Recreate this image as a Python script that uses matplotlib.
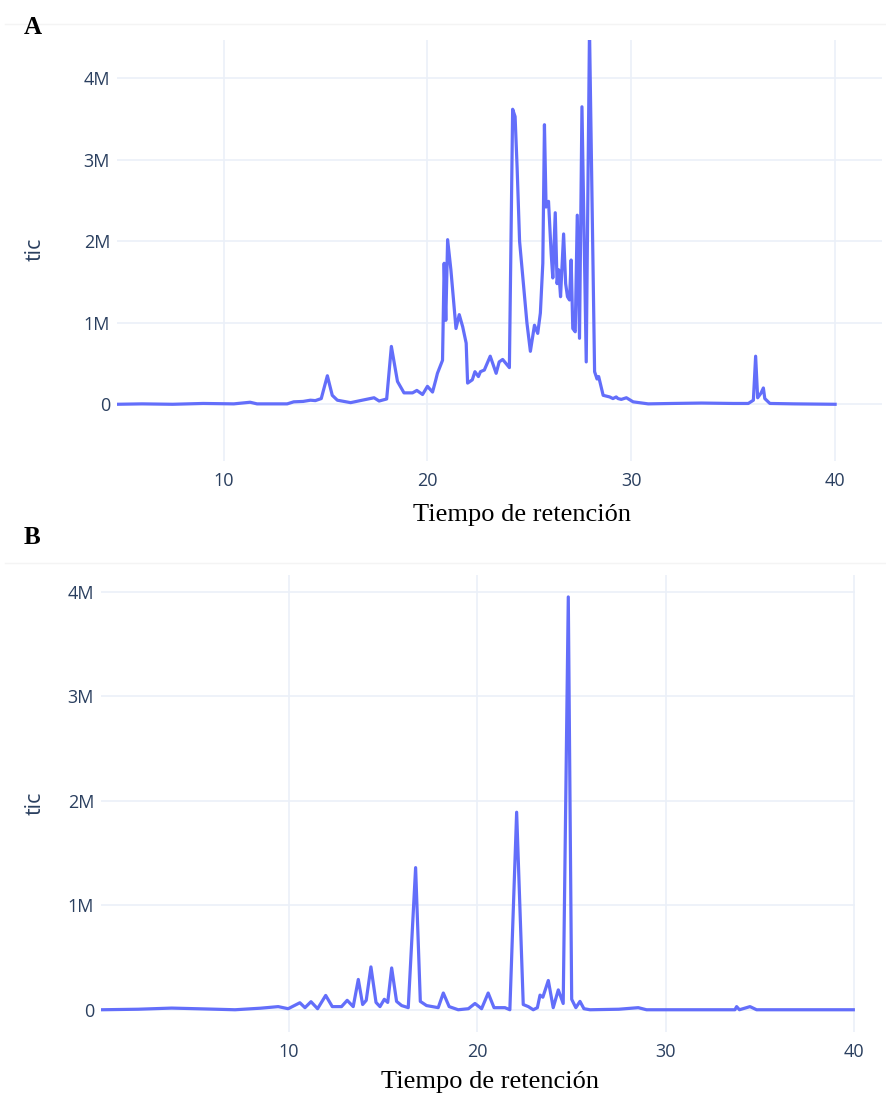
import matplotlib.pyplot as plt
import numpy as np
from matplotlib.ticker import FuncFormatter

# retention time (min) and total ion current (millions of counts)
rt_a = [4.77, 6.0, 7.5, 9.0, 10.5, 11.3, 11.64, 12.5, 13.12, 13.44, 13.9, 14.26,
        14.5, 14.79, 15.09, 15.33, 15.58, 16.23, 16.8, 17.38, 17.63, 18.0, 18.23,
        18.53, 18.85, 19.27, 19.48, 19.76, 20.0, 20.25, 20.41, 20.49, 20.74, 20.82,
        20.9, 20.99, 21.15, 21.4, 21.56, 21.73, 21.9, 21.97, 22.2, 22.33, 22.5,
        22.6, 22.79, 23.08, 23.37, 23.52, 23.69, 24.02, 24.18, 24.3, 24.4, 24.52,
        24.7, 24.88, 25.05, 25.25, 25.41, 25.54, 25.66, 25.74, 25.82, 25.94, 26.07,
        26.15, 26.27, 26.36, 26.44, 26.53, 26.68, 26.78, 26.87, 26.97, 27.05,
        27.13, 27.25, 27.35, 27.46, 27.58, 27.79, 27.95, 28.2, 28.32, 28.4, 28.62,
        28.94, 29.1, 29.26, 29.35, 29.51, 29.76, 30.09, 30.83, 32.0, 33.45, 35.0,
        35.74, 35.99, 36.1, 36.2, 36.36, 36.48, 36.55, 36.8, 38.0, 40.0]
tic_a = [0.0, 0.005, 0.0, 0.01, 0.005, 0.025, 0.005, 0.005, 0.005, 0.03, 0.035, 0.05,
         0.045, 0.07, 0.35, 0.11, 0.05, 0.02, 0.05, 0.08, 0.04, 0.065, 0.71,
         0.28, 0.14, 0.14, 0.17, 0.12, 0.22, 0.15, 0.30, 0.38, 0.54, 1.73,
         1.03, 2.02, 1.65, 0.93, 1.10, 0.95, 0.75, 0.26, 0.30, 0.40, 0.34,
         0.40, 0.42, 0.59, 0.38, 0.52, 0.55, 0.45, 3.62, 3.53, 2.9, 2.0,
         1.5, 1.0, 0.65, 0.97, 0.87, 1.12, 1.73, 3.43, 2.42, 2.49, 1.85,
         1.55, 2.35, 1.48, 1.65, 1.32, 2.09, 1.48, 1.32, 1.28, 1.77,
         0.93, 0.89, 2.32, 0.81, 3.65, 0.52, 4.6, 0.40, 0.31, 0.34, 0.11,
         0.09, 0.07, 0.09, 0.07, 0.06, 0.08, 0.03, 0.005, 0.01, 0.015, 0.01,
         0.01, 0.05, 0.59, 0.08, 0.135, 0.2, 0.07, 0.01, 0.005, 0.0]

rt_b = [0.06, 2.0, 3.78, 5.5, 7.14, 8.5, 9.43, 9.96, 10.58, 10.85, 11.17, 11.52,
        11.95, 12.3, 12.79, 13.09, 13.41, 13.68, 13.91, 14.1, 14.35, 14.62, 14.83,
        15.06, 15.24, 15.45, 15.71, 15.98, 16.33, 16.72, 16.97, 17.3, 17.92, 18.19,
        18.5, 18.98, 19.52, 19.87, 20.22, 20.57, 20.88, 21.46, 21.72, 22.08, 22.43,
        22.7, 22.96, 23.18, 23.32, 23.47, 23.76, 24.02, 24.29, 24.55, 24.82, 25.0,
        25.22, 25.44, 25.65, 25.97, 27.5, 28.53, 28.97, 31.0, 33.66, 33.75, 33.9,
        34.46, 34.81, 37.0, 39.94]
tic_b = [0.0, 0.005, 0.016, 0.008, 0.0, 0.015, 0.03, 0.01, 0.067, 0.02, 0.077, 0.01,
         0.137, 0.03, 0.03, 0.09, 0.03, 0.29, 0.05, 0.09, 0.41, 0.07, 0.03,
         0.10, 0.07, 0.40, 0.08, 0.04, 0.02, 1.36, 0.08, 0.04, 0.02, 0.16,
         0.03, 0.0, 0.01, 0.06, 0.01, 0.16, 0.02, 0.02, 0.0, 1.89, 0.05,
         0.03, 0.0, 0.02, 0.14, 0.12, 0.28, 0.02, 0.19, 0.06, 3.95, 0.10,
         0.02, 0.08, 0.01, 0.0, 0.005, 0.02, 0.0, 0.0, 0.0, 0.03, 0.0,
         0.03, 0.0, 0.0, 0.0]

LINE = '#636efa'
GRID = '#ebf0f8'
TICK = '#2a3f5f'

W, H = 887, 1099
fig = plt.figure(figsize=(W / 100, H / 100), dpi=100)


def px_axes(x0, y0, x1, y1):
    return fig.add_axes([x0 / W, 1 - y1 / H, (x1 - x0) / W, (y1 - y0) / H])


def millions(v, pos):
    return '0' if v == 0 else '%dM' % round(v / 1e6)


def style(ax, rt, tic, xlim, ylim):
    ax.plot(rt, np.array(tic) * 1e6, color=LINE, lw=2.3, solid_joinstyle='round')
    ax.set_xlim(*xlim)
    ax.set_ylim(ylim[0] * 1e6, ylim[1] * 1e6)
    ax.set_xticks([10, 20, 30, 40])
    ax.set_yticks(np.arange(0, 5e6, 1e6))
    ax.yaxis.set_major_formatter(FuncFormatter(millions))
    ax.grid(True, color=GRID, lw=1.2)
    ax.set_axisbelow(True)
    for s in ax.spines.values():
        s.set_visible(False)
    ax.tick_params(length=0, labelsize=13, labelcolor=TICK, pad=5)
    ax.tick_params(axis='x', pad=8)
    for lab in ax.get_xticklabels() + ax.get_yticklabels():
        lab.set_family('Open Sans')


ax_a = px_axes(117, 39.5, 882, 461)
style(ax_a, rt_a, tic_a, (4.77, 42.3), (-0.696, 4.476))

ax_b = px_axes(101, 575, 855, 1031.7)
style(ax_b, rt_b, tic_b, (0.03, 40.03), (-0.21, 4.16))

# y titles
for yc in (249, 803):
    fig.text(35 / W, 1 - yc / H, 'tic', rotation=90, ha='center', va='center',
             fontsize=15.5, color=TICK, family='Open Sans')

# x titles and panel letters
fig.text(522 / W, 1 - 515 / H, 'Tiempo de retención', ha='center', va='center',
         fontsize=19, family='Liberation Serif', color='black')
fig.text(490 / W, 1 - 1082 / H, 'Tiempo de retención', ha='center', va='center',
         fontsize=19, family='Liberation Serif', color='black')
fig.text(24 / W, 1 - 28 / H, 'A', ha='left', va='center', fontsize=18,
         family='Liberation Serif', weight='bold')
fig.text(24 / W, 1 - 538 / H, 'B', ha='left', va='center', fontsize=18,
         family='Liberation Serif', weight='bold')

# faint frame lines above each panel
fig.add_artist(plt.Line2D([5 / W, 1], [1 - 24 / H, 1 - 24 / H], color='#f4f4f4', lw=1))
fig.add_artist(plt.Line2D([5 / W, 1], [1 - 563 / H, 1 - 563 / H], color='#f4f4f4', lw=1))

fig.savefig('out.png', dpi=100)
